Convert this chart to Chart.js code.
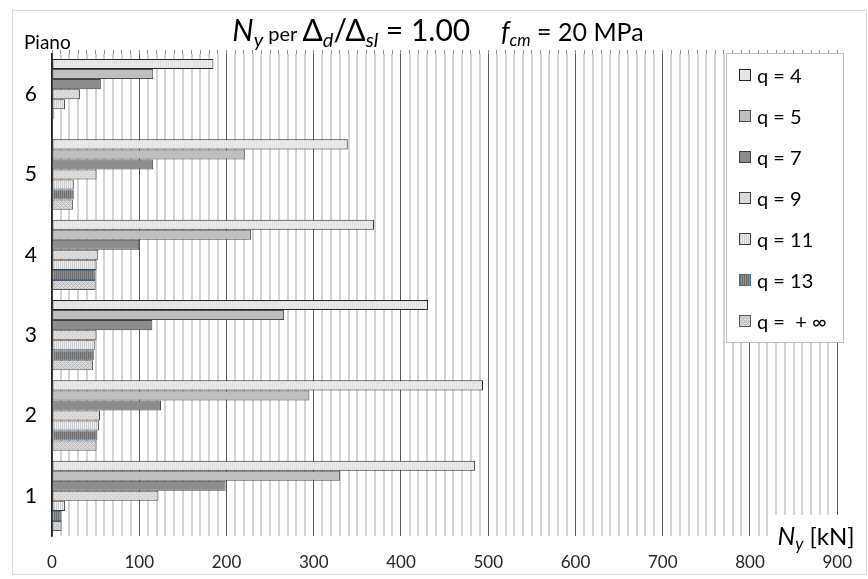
<!DOCTYPE html>
<html>
<head>
<meta charset="utf-8">
<script src="https://cdn.jsdelivr.net/npm/chart.js"></script>
<style>
    html, body { margin: 0; padding: 0; background: #fff; }
</style>
</head>
<body>
<canvas id="myChart" width="868" height="579"></canvas>
<script>
const floors = ['1', '2', '3', '4', '5', '6'];
const qLabels = ['q = 4', 'q = 5', 'q = 7', 'q = 9', 'q = 11', 'q = 13', 'q =  + \u221E'];
// values per floor, from floor 1 up to floor 6
const q4 = [485, 494, 431, 369, 339, 185];
const q5 = [330, 295, 266, 228, 221, 116];
const q7 = [199, 125, 115, 100, 116, 56];
const q9 = [122, 55, 51, 53, 51, 32];
const q11 = [15, 54, 49, 51, 25, 15];
const q13 = [11, 52, 48, 50, 25, 2];
const qInf = [11, 51, 47, 50, 24, 0];
const xTicks = [0, 100, 200, 300, 400, 500, 600, 700, 800, 900];

const FONT = 'Lato, "Open Sans", sans-serif';

function makePattern(bg, fg, kind) {
    const c = document.createElement('canvas');
    c.width = 4;
    c.height = 4;
    const g = c.getContext('2d');
    g.fillStyle = bg;
    g.fillRect(0, 0, 4, 4);
    g.fillStyle = fg;
    if (kind === 'stripe') {
        g.fillRect(0, 0, 1, 4);
        g.fillRect(2, 0, 1, 4);
    } else if (kind === 'dots') {
        g.fillRect(0, 0, 1, 1);
        g.fillRect(2, 2, 1, 1);
    } else if (kind === 'hatch') {
        g.fillRect(0, 0, 1, 1);
        g.fillRect(1, 1, 1, 1);
        g.fillRect(2, 2, 1, 1);
        g.fillRect(3, 3, 1, 1);
        g.fillRect(2, 0, 1, 1);
        g.fillRect(0, 2, 1, 1);
    }
    return g.createPattern(c, 'repeat');
}

const fills = [
    makePattern('#ececec', '#e0e0e0', 'stripe'),
    '#bfbfbf',
    '#8c8c8c',
    makePattern('#dcdcdc', '#c4c4c4', 'dots'),
    makePattern('#eeeeee', '#cccccc', 'stripe'),
    makePattern('#8f8f8f', '#6c6c6c', 'stripe'),
    makePattern('#dadada', '#b8b8b8', 'hatch')
];
const borders = ['#262626', '#4d4d4d', '#404040', '#404040', '#404040', '#41719c', '#595959'];
const series = [q4, q5, q7, q9, q11, q13, qInf];

function drawRich(ctx, parts, cx, y) {
    let total = 0;
    parts.forEach(p => {
        ctx.font = p.font;
        p.w = ctx.measureText(p.text).width;
        total += p.w;
    });
    let x = cx - total / 2;
    parts.forEach(p => {
        ctx.font = p.font;
        ctx.fillText(p.text, x, y + (p.dy || 0));
        x += p.w;
    });
}

const decorations = {
    id: 'decorations',
    beforeDraw(chart) {
        const ctx = chart.ctx;
        ctx.save();
        ctx.strokeStyle = '#d9d9d9';
        ctx.lineWidth = 1;
        ctx.strokeRect(12.5, 10.5, 854, 564);
        ctx.restore();
    },
    afterDraw(chart) {
        const ctx = chart.ctx;
        ctx.save();
        ctx.fillStyle = '#000';
        ctx.textBaseline = 'alphabetic';
        ctx.textAlign = 'left';

        // title
        drawRich(ctx, [
            { text: 'N', font: 'italic 30px ' + FONT },
            { text: 'y', font: 'italic 20px ' + FONT, dy: 6 },
            { text: ' per ', font: '20px ' + FONT },
            { text: '\u0394', font: '30px ' + FONT },
            { text: 'd', font: 'italic 20px ' + FONT, dy: 6 },
            { text: '/\u0394', font: '30px ' + FONT },
            { text: 'sl', font: 'italic 20px ' + FONT, dy: 6 },
            { text: ' = 1.00    ', font: '30px ' + FONT },
            { text: 'f', font: 'italic 27px ' + FONT },
            { text: 'cm', font: 'italic 17px ' + FONT, dy: 5 },
            { text: ' = 20 MPa', font: '25px ' + FONT }
        ], 438, 41);

        ctx.font = '19px ' + FONT;
        ctx.fillText('Piano', 24, 49);

        // axis title over the plot corner
        ctx.fillStyle = '#fff';
        ctx.fillRect(771, 515, 88, 22);
        ctx.fillStyle = '#000';
        drawRich(ctx, [
            { text: 'N', font: 'italic 25px ' + FONT },
            { text: 'y', font: 'italic 17px ' + FONT, dy: 5 },
            { text: ' [kN]', font: '24px ' + FONT }
        ], 816, 545);

        // legend
        ctx.fillStyle = '#fff';
        ctx.fillRect(726.5, 53.5, 117, 289);
        ctx.strokeStyle = '#bfbfbf';
        ctx.lineWidth = 1;
        ctx.strokeRect(726.5, 53.5, 117, 289);
        ctx.font = '20px ' + FONT;
        ctx.textBaseline = 'middle';
        chart.data.datasets.forEach((ds, i) => {
            const y = 76 + i * 41;
            ctx.fillStyle = ds.backgroundColor;
            ctx.fillRect(739.5, y - 6.5, 11, 11);
            ctx.strokeStyle = ds.borderColor;
            ctx.strokeRect(739.5, y - 6.5, 11, 11);
            ctx.fillStyle = '#000';
            ctx.fillText(ds.label, 757, y + 1);
        });
        ctx.restore();
    }
};

const ctx = document.getElementById('myChart');

new Chart(ctx, {
    type: 'bar',
    data: {
        labels: floors,
        datasets: series.map((d, i) => ({
            label: qLabels[i],
            data: d,
            backgroundColor: fills[i],
            borderColor: borders[i],
            borderWidth: 1,
            borderSkipped: false,
            categoryPercentage: 0.875,
            barPercentage: 1
        }))
    },
    options: {
        indexAxis: 'y',
        responsive: false,
        animation: false,
        devicePixelRatio: 1,
        layout: {
            padding: { left: 0, top: 50, right: 25, bottom: 0 }
        },
        plugins: {
            legend: { display: false },
            tooltip: { enabled: false },
            title: { display: false }
        },
        scales: {
            x: {
                type: 'linear',
                position: 'bottom',
                min: 0,
                max: 900,
                afterFit: (scale) => { scale.height = 43; },
                ticks: {
                    stepSize: 10,
                    autoSkip: false,
                    maxRotation: 0,
                    padding: 16,
                    color: '#262626',
                    font: { family: FONT, size: 17 },
                    callback: (value) => xTicks.includes(value) ? value : ''
                },
                grid: {
                    drawTicks: false,
                    color: (c) => c.tick && c.tick.value % 100 === 0 ? '#595959' : '#d4d4d4',
                    lineWidth: (c) => c.tick && c.tick.value % 100 === 0 ? 1 : 2
                },
                border: { display: false }
            },
            x2: {
                type: 'linear',
                position: 'top',
                min: 0,
                max: 900,
                afterFit: (scale) => { scale.height = 4; },
                ticks: { display: false, stepSize: 10 },
                grid: {
                    drawOnChartArea: false,
                    tickLength: 4,
                    color: '#8c8c8c'
                },
                border: { display: false }
            },
            y: {
                type: 'category',
                reverse: true,
                afterFit: (scale) => { scale.width = 52; },
                ticks: {
                    padding: 7,
                    color: '#000',
                    font: { family: FONT, size: 21 }
                },
                grid: { display: false },
                border: { display: true, color: '#262626', width: 1.5 }
            }
        }
    },
    plugins: [decorations]
});
</script>
</body>
</html>
